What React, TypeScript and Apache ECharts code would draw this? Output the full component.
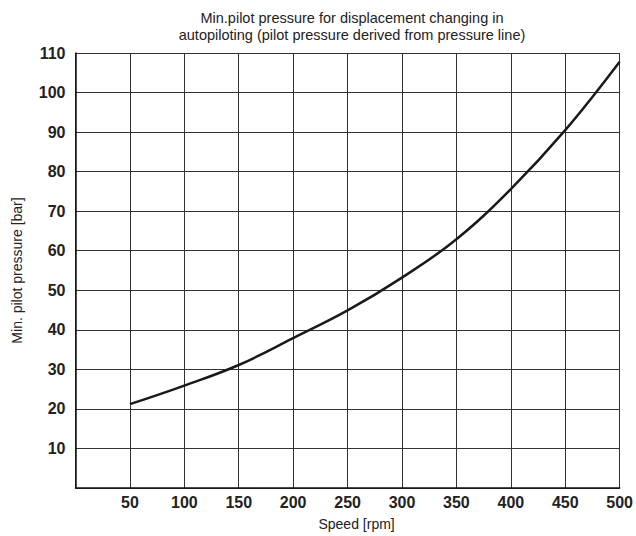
import React, { useEffect, useRef } from "react";
import * as echarts from "echarts";

const speedRpm = [50, 100, 150, 200, 250, 300, 350, 400, 450, 500];
const minPilotPressure = [21.2, 25.9, 31.1, 37.9, 44.9, 53.2, 62.9, 75.6, 90.5, 107.8];

const titleText =
  "Min.pilot pressure for displacement changing in\nautopiloting (pilot pressure derived from pressure line)";
const xName = "Speed [rpm]";
const yName = "Min. pilot pressure [bar]";

const FONT = "'Liberation Sans', Arial, Helvetica, sans-serif";

export default function App() {
  const ref = useRef<HTMLDivElement>(null);
  useEffect(() => {
    if (!ref.current) return;
    const chart = echarts.init(ref.current, null, { renderer: "svg" });
    chart.setOption({
      animation: false,
      backgroundColor: "#ffffff",
      title: {
        text: titleText,
        left: 347,
        textAlign: "center",
        top: 5,
        textStyle: {
          fontFamily: FONT,
          fontSize: 14.5,
          fontWeight: "normal",
          color: "#222",
          lineHeight: 16.5,
        },
      },
      grid: { left: 75.5, right: 16, top: 53, bottom: 40, containLabel: false },
      xAxis: {
        type: "value",
        min: 0,
        max: 500,
        interval: 50,
        name: xName,
        nameLocation: "middle",
        nameGap: 29,
        nameTextStyle: {
          fontFamily: FONT,
          fontSize: 14,
          color: "#222",
          padding: [0, 0, 0, 18],
        },
        axisLine: { show: true, lineStyle: { color: "#111", width: 1.5 } },
        axisTick: { show: false },
        splitLine: { show: true, lineStyle: { color: "#333", width: 1 } },
        axisLabel: {
          fontFamily: FONT,
          fontSize: 16,
          fontWeight: "bold",
          color: "#222",
          margin: 6,
          formatter: (v: number) => (v === 0 ? "" : String(v)),
        },
      },
      yAxis: {
        type: "value",
        min: 0,
        max: 110,
        interval: 10,
        name: yName,
        nameLocation: "middle",
        nameGap: 52,
        nameTextStyle: { fontFamily: FONT, fontSize: 14, color: "#222" },
        axisLine: { show: true, lineStyle: { color: "#111", width: 1.5 } },
        axisTick: { show: false },
        splitLine: { show: true, lineStyle: { color: "#333", width: 1 } },
        axisLabel: {
          fontFamily: FONT,
          fontSize: 16,
          fontWeight: "bold",
          color: "#222",
          margin: 10,
          formatter: (v: number) => (v === 0 ? "" : String(v)),
        },
      },
      series: [
        {
          type: "line",
          data: speedRpm.map((x, i) => [x, minPilotPressure[i]]),
          smooth: 0.4,
          showSymbol: false,
          lineStyle: { color: "#1a1a1a", width: 2.5 },
        },
      ],
    });
    return () => chart.dispose();
  }, []);
  return (
    <div
      ref={ref}
      style={{ position: "fixed", left: 0, top: 0, width: 636, height: 536 }}
    />
  );
}
